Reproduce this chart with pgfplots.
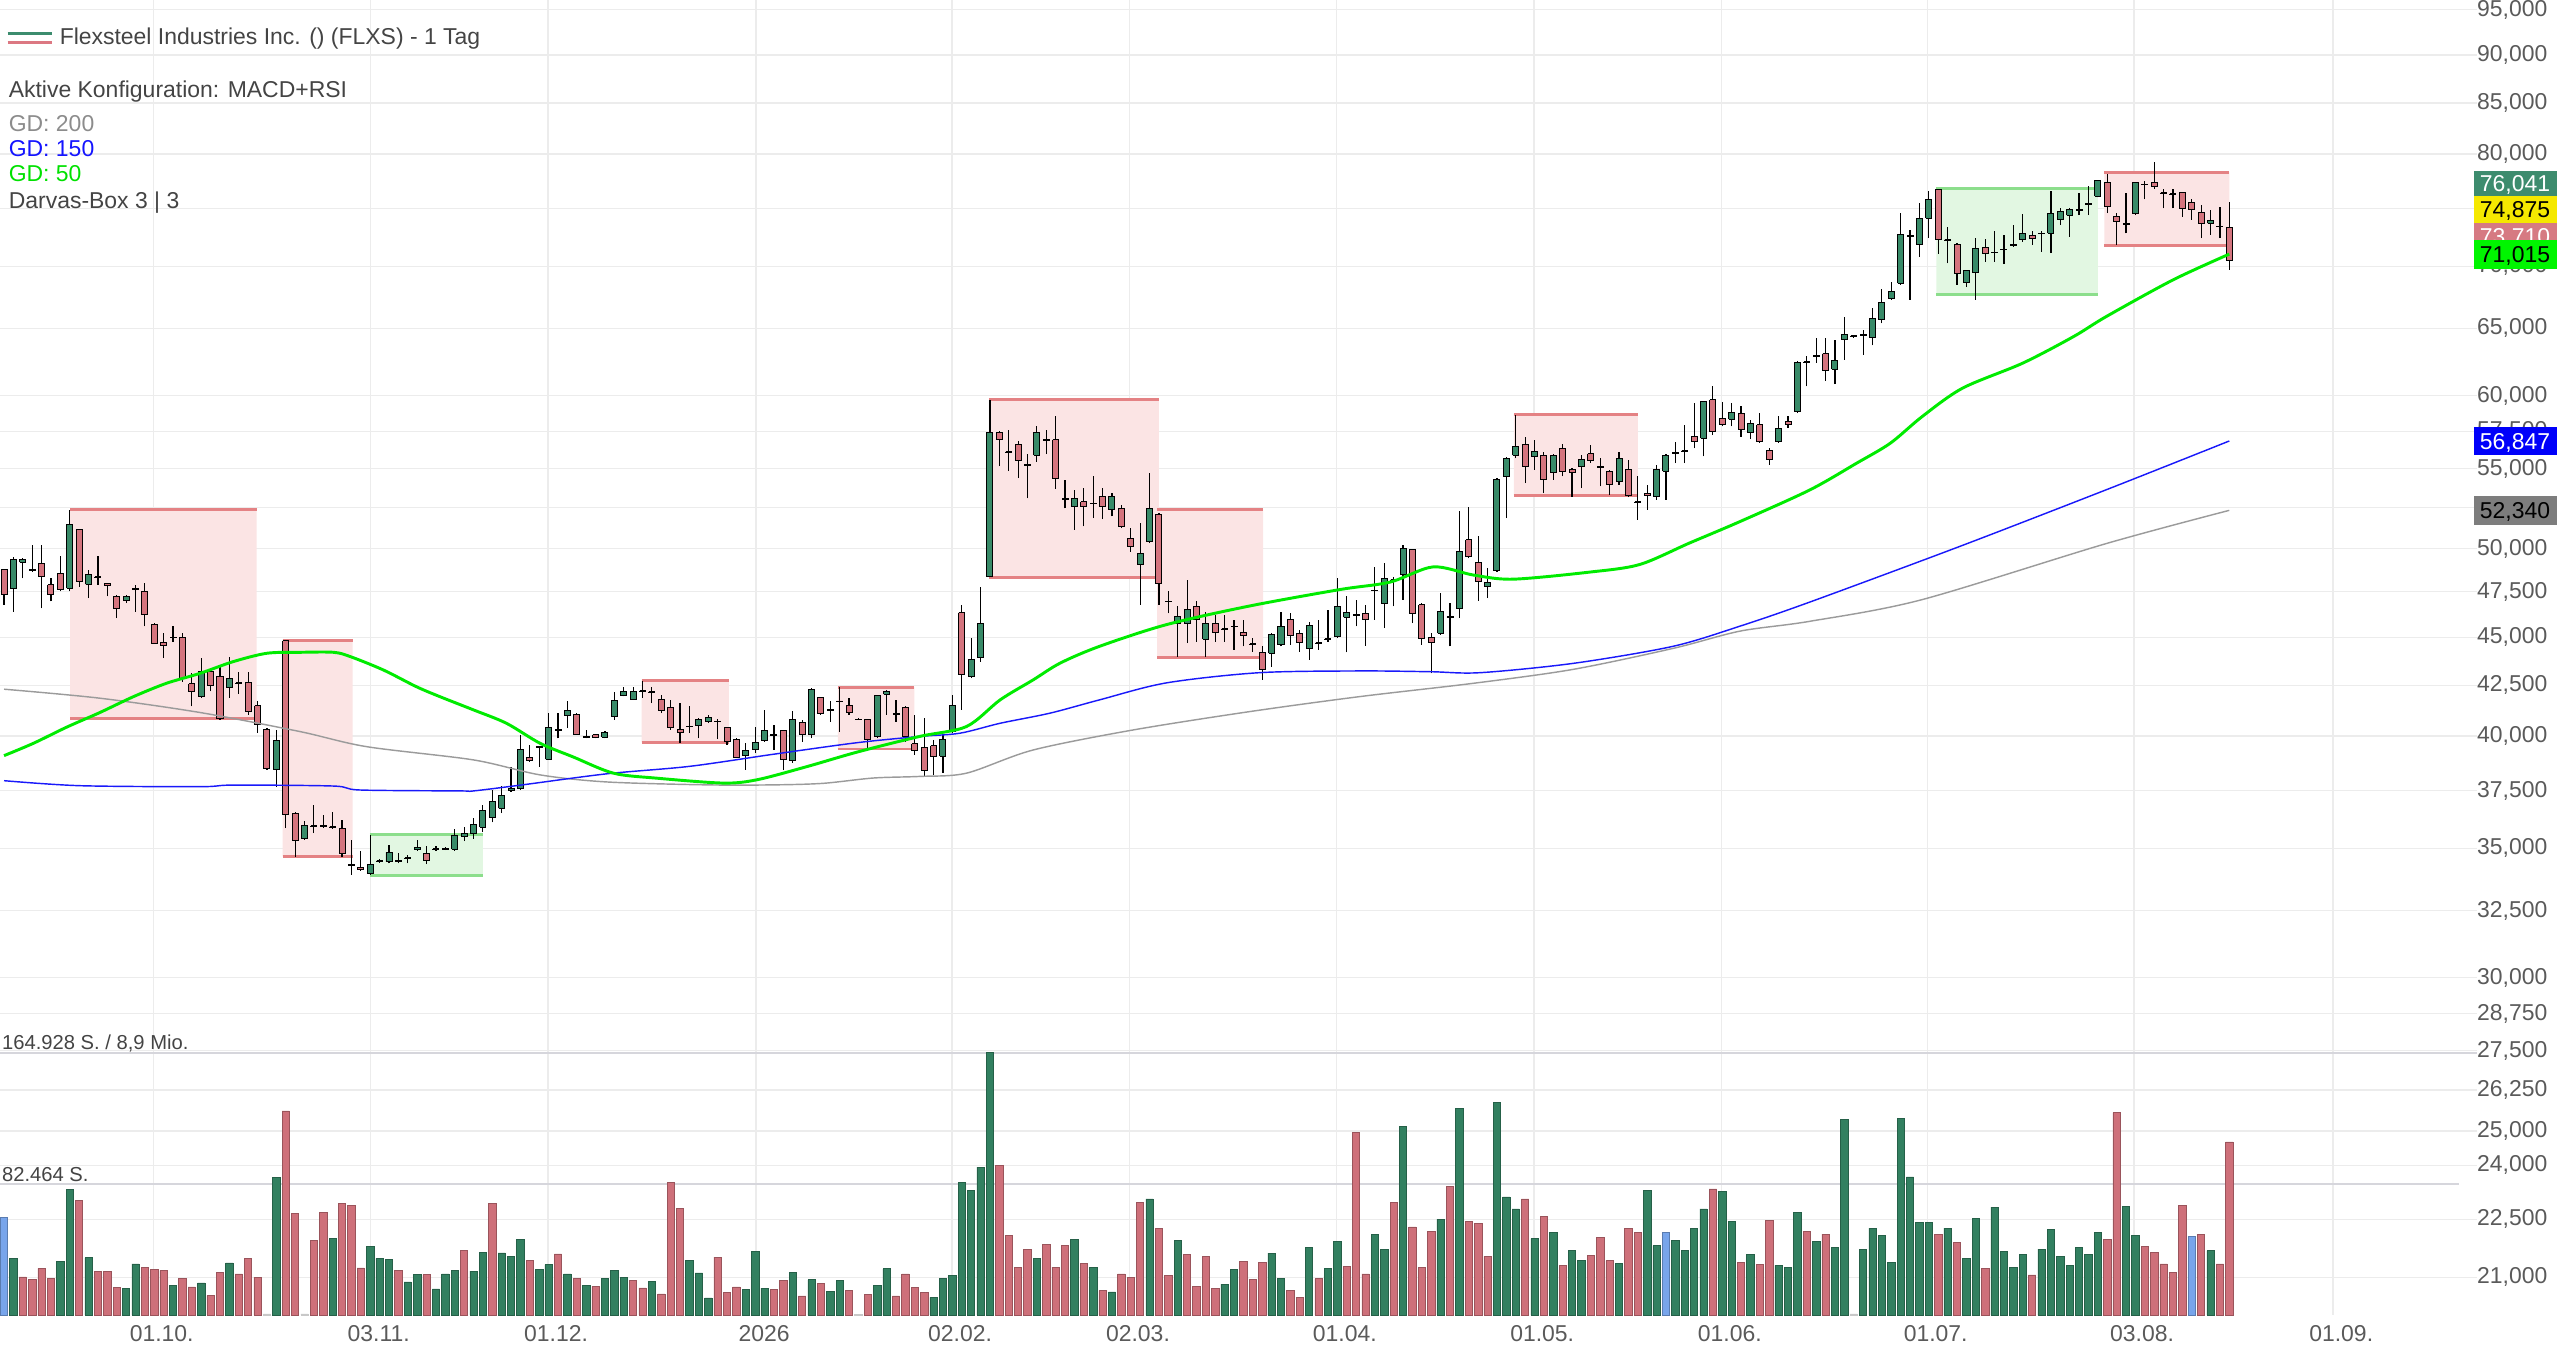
\documentclass[border=0pt]{standalone}
\usepackage{fontspec}
\setmainfont{Liberation Sans}
\usepackage{pgfplots}
\usepackage{pgfplotstable}
\pgfplotsset{compat=1.18}

\definecolor{cG}{RGB}{56,138,104}
\definecolor{cR}{RGB}{212,116,126}
\definecolor{vG}{RGB}{50,128,96}
\definecolor{vR}{RGB}{206,112,122}
\definecolor{vB}{RGB}{120,165,235}
\definecolor{vK}{RGB}{200,200,200}
\definecolor{boxR}{RGB}{251,228,228}
\definecolor{boxRl}{RGB}{228,130,132}
\definecolor{boxG}{RGB}{226,247,226}
\definecolor{boxGl}{RGB}{140,222,140}
\definecolor{ma50}{RGB}{0,235,0}
\definecolor{ma150}{RGB}{25,25,250}
\definecolor{ma200}{RGB}{155,155,155}
\definecolor{gridc}{RGB}{236,236,236}
\definecolor{sepc}{RGB}{214,214,220}
\definecolor{txt}{RGB}{68,68,68}
\definecolor{ticktxt}{RGB}{90,90,90}
\definecolor{legG}{RGB}{60,140,110}
\definecolor{legR}{RGB}{220,120,130}
\definecolor{bA}{RGB}{61,140,110}
\definecolor{bB}{RGB}{245,232,0}
\definecolor{bC}{RGB}{214,122,130}
\definecolor{bD}{RGB}{0,245,0}
\definecolor{bE}{RGB}{0,0,250}
\definecolor{bF}{RGB}{125,125,125}

\pgfplotstableread{
i o h l c
0 48.76 48.80 46.77 47.33
1 47.70 49.50 46.40 49.34
2 49.20 49.44 48.27 49.34
3 48.80 50.23 48.66 48.72
4 49.15 50.23 46.58 48.37
5 47.89 48.27 46.96 47.37
6 48.57 49.54 47.52 47.61
7 47.70 52.37 47.52 51.45
8 51.14 51.18 47.80 48.08
9 47.93 48.76 47.14 48.47
10 48.35 49.54 47.89 48.30
11 47.99 48.02 47.24 47.84
12 47.24 47.33 46.03 46.58
13 47.00 47.33 46.86 47.24
14 47.67 47.89 46.40 47.63
15 47.52 47.99 45.58 46.21
16 45.70 45.76 44.65 44.68
17 44.72 45.22 43.89 44.54
18 45.00 45.58 44.77 44.97
19 44.99 45.22 42.69 42.86
20 42.57 43.11 41.44 42.19
21 41.94 43.89 41.86 43.19
22 43.19 43.28 42.19 42.47
23 42.97 43.54 40.78 40.86
24 42.40 43.98 41.86 42.86
25 42.62 43.19 42.08 42.58
26 42.64 43.19 41.03 41.19
27 41.47 41.69 40.17 40.54
28 40.33 40.38 38.43 38.51
29 38.46 40.30 37.67 39.80
30 44.81 44.81 35.85 36.43
31 36.47 36.57 34.66 35.33
32 35.43 36.14 35.36 35.97
33 35.95 36.85 35.64 35.93
34 35.95 36.43 35.85 35.93
35 35.92 36.53 35.82 35.90
36 35.82 36.21 34.66 34.77
37 34.33 35.36 33.91 34.31
38 34.22 34.87 34.08 34.11
39 33.95 35.57 33.91 34.34
40 34.49 34.55 34.41 34.47
41 34.45 35.15 34.38 34.83
42 34.49 34.80 34.38 34.47
43 34.60 34.73 34.38 34.58
44 34.94 35.36 34.91 35.05
45 34.80 35.08 34.35 34.49
46 34.98 35.08 34.91 34.96
47 34.98 35.05 34.93 34.96
48 34.97 35.82 34.91 35.53
49 35.50 35.90 35.30 35.62
50 35.62 36.30 35.40 36.00
51 35.90 36.86 35.70 36.60
52 36.30 37.50 36.10 37.00
53 36.70 37.70 36.50 37.29
54 37.50 38.58 37.45 37.60
55 37.60 40.06 37.52 39.38
56 39.00 39.60 38.80 38.86
57 39.50 39.55 38.58 39.45
58 38.92 41.11 38.89 40.43
59 40.32 41.11 39.90 40.28
60 41.00 41.69 40.38 41.22
61 41.06 41.11 40.06 40.09
62 40.00 40.30 39.90 39.96
63 40.06 40.10 39.90 39.95
64 39.95 40.25 39.90 40.17
65 40.95 42.18 40.78 41.72
66 41.97 42.43 41.94 42.20
67 41.80 42.43 41.77 42.20
68 42.22 42.70 41.86 42.18
69 42.18 42.43 41.61 42.15
70 41.80 42.02 41.11 41.22
71 41.39 41.77 40.30 40.41
72 40.33 41.61 39.70 40.19
73 40.48 41.47 40.14 40.44
74 40.49 40.86 39.90 40.81
75 40.70 41.03 40.62 40.90
76 40.72 40.81 39.86 40.68
77 40.43 40.46 39.59 39.77
78 39.86 39.90 38.97 39.00
79 39.08 39.67 38.43 39.31
80 39.38 40.46 39.20 39.70
81 39.79 41.27 39.75 40.25
82 40.08 40.54 39.35 40.04
83 40.25 40.30 38.43 38.89
84 38.86 41.22 38.77 40.81
85 40.65 40.78 39.75 40.06
86 40.06 42.35 39.90 42.31
87 41.89 41.90 41.03 41.08
88 41.29 41.69 40.70 41.25
89 41.71 42.43 40.22 41.67
90 41.47 41.86 41.03 41.14
91 40.82 40.86 40.78 40.80
92 40.81 40.84 39.35 39.86
93 39.98 42.02 39.90 41.97
94 42.05 42.27 41.03 42.20
95 41.08 41.77 40.70 41.04
96 41.39 41.44 39.75 39.98
97 39.64 41.03 39.12 39.32
98 39.48 40.86 38.12 38.40
99 39.54 39.82 38.20 39.07
100 39.07 40.04 38.30 39.85
101 40.22 42.02 40.14 41.48
102 46.34 46.77 41.27 43.06
103 42.94 44.95 42.86 43.80
104 43.92 47.80 43.71 45.76
105 48.37 59.70 48.33 57.40
106 57.40 57.50 55.16 56.97
107 56.12 57.61 54.84 56.08
108 56.60 56.82 54.39 55.52
109 55.27 56.00 53.10 55.23
110 55.90 57.84 55.47 57.40
111 56.94 57.61 55.97 56.90
112 56.92 58.53 53.69 54.39
113 53.06 54.28 52.47 53.02
114 52.56 53.64 51.14 53.09
115 52.87 53.74 51.35 52.56
116 52.79 54.50 51.85 52.75
117 53.21 53.74 51.80 52.56
118 52.37 53.43 51.96 53.21
119 52.47 52.68 51.24 51.35
120 50.63 51.24 49.83 50.13
121 49.05 51.55 46.77 49.73
122 50.43 54.70 50.33 52.47
123 52.11 52.20 46.77 47.95
124 46.98 47.52 46.30 46.94
125 45.76 46.68 43.98 46.12
126 45.76 48.18 44.68 46.49
127 46.68 46.96 44.77 45.94
128 44.90 46.40 43.98 45.76
129 45.76 46.21 44.77 45.26
130 45.46 46.21 44.77 45.42
131 45.60 45.94 44.33 45.56
132 45.26 45.94 44.51 45.08
133 44.66 44.95 44.24 44.62
134 44.20 44.51 42.77 43.28
135 44.16 45.22 43.45 45.13
136 44.60 46.40 44.51 45.58
137 45.98 46.30 44.60 45.08
138 45.22 45.40 44.24 44.72
139 44.42 45.85 43.80 45.62
140 44.70 45.94 44.33 44.66
141 44.92 46.49 44.77 44.88
142 45.04 48.28 44.95 46.68
143 46.08 47.24 44.20 46.35
144 46.23 47.05 45.58 46.19
145 46.30 46.77 44.55 45.94
146 47.59 48.94 45.94 47.55
147 46.86 49.14 45.49 48.28
148 48.20 48.37 46.68 48.16
149 48.47 50.23 47.05 50.03
150 49.93 49.97 45.76 46.30
151 46.77 46.86 44.60 44.95
152 44.98 45.22 43.11 44.72
153 45.22 47.43 45.13 46.40
154 46.10 46.86 44.51 46.06
155 46.58 52.27 46.03 49.83
156 50.53 52.56 49.43 49.53
157 49.17 50.77 47.00 48.08
158 47.80 48.84 47.15 48.03
159 48.71 54.39 48.65 54.28
160 54.50 55.80 51.85 55.70
161 55.90 58.65 55.70 56.50
162 56.63 57.14 54.07 55.16
163 55.84 56.92 54.94 56.12
164 55.90 56.12 53.43 54.28
165 54.77 56.00 54.28 55.90
166 56.35 56.67 54.50 54.84
167 54.94 55.05 53.20 54.73
168 55.16 55.90 53.74 55.58
169 56.00 56.55 55.40 55.54
170 55.14 55.70 53.85 55.10
171 54.84 54.94 53.32 53.96
172 54.17 56.12 53.96 55.70
173 54.94 55.58 53.17 53.26
174 52.89 54.54 51.75 52.85
175 53.39 53.96 52.37 53.26
176 53.20 55.27 53.00 54.94
177 54.84 56.00 53.00 55.90
178 56.06 56.81 55.36 56.02
179 56.20 57.96 55.36 56.16
180 57.15 59.47 56.35 56.81
181 57.04 59.58 55.82 59.58
182 59.70 60.66 57.26 57.49
183 58.37 59.58 57.84 58.00
184 58.35 59.47 57.84 58.80
185 58.77 59.23 57.15 57.66
186 57.42 58.30 56.97 58.07
187 57.96 58.77 56.74 56.81
188 56.23 56.35 55.27 55.58
189 56.81 58.53 56.74 57.73
190 58.18 58.53 57.73 57.96
191 58.87 62.53 58.77 62.41
192 62.48 62.90 60.66 62.44
193 62.92 64.27 62.41 62.88
194 63.08 64.27 61.07 61.81
195 61.93 64.14 60.83 62.53
196 64.12 65.90 62.61 64.50
197 64.43 64.50 64.27 64.41
198 64.52 64.90 63.00 64.48
199 64.27 66.60 63.70 65.80
200 65.67 68.16 65.40 67.00
201 67.40 68.67 67.25 67.95
202 68.60 74.57 68.47 72.66
203 72.60 73.10 67.25 72.56
204 71.86 75.46 70.81 74.12
205 74.12 76.60 72.38 75.81
206 76.70 76.70 71.05 72.30
207 72.25 73.38 70.24 72.21
208 71.80 71.95 68.47 69.37
209 68.65 69.70 68.28 69.65
210 69.48 72.38 67.25 71.50
211 71.60 72.30 70.38 71.03
212 71.16 73.04 70.38 71.12
213 71.45 72.66 70.18 71.41
214 71.82 73.50 71.65 71.78
215 72.23 74.51 72.08 72.75
216 72.60 72.96 71.80 72.38
217 72.82 72.96 71.23 72.78
218 72.80 76.60 71.10 74.50
219 73.97 75.00 73.50 74.70
220 74.40 75.00 72.52 74.85
221 74.87 76.36 74.40 74.83
222 75.42 77.00 74.40 75.38
223 76.10 77.58 75.97 77.50
224 77.35 78.10 74.57 75.18
225 74.30 74.57 71.80 73.80
226 73.62 76.36 72.80 73.58
227 74.50 77.40 74.40 77.35
228 77.19 77.47 75.81 77.15
229 77.35 79.27 76.76 77.00
230 76.42 76.76 75.00 76.38
231 76.32 76.70 75.00 76.28
232 76.42 76.50 74.25 75.00
233 75.54 75.80 73.97 74.90
234 74.65 75.30 72.38 73.68
235 73.68 74.85 72.66 73.90
236 73.44 75.10 72.38 73.40
237 73.30 75.60 69.70 70.47
}\candles

\pgfplotstableread{
i v t
0 61.5 3
1 35.3 1
2 23.9 2
3 22.2 2
4 29.2 2
5 22.7 2
6 33.4 1
7 79.1 1
8 72.0 2
9 35.9 1
10 27.1 2
11 27.5 2
12 17.2 2
13 16.6 1
14 32.1 1
15 30.0 2
16 28.5 2
17 27.9 2
18 18.7 1
19 22.7 2
20 17.6 2
21 20.1 1
22 12.2 2
23 26.9 2
24 32.7 1
25 25.8 2
26 35.3 2
27 23.7 2
28 0.6 0
29 86.2 1
30 128.2 2
31 63.8 2
32 0.6 0
33 47.0 2
34 64.6 2
35 48.1 1
36 70.1 2
37 69.0 2
38 29.6 2
39 43.2 1
40 35.5 1
41 34.8 1
42 27.9 2
43 20.8 1
44 25.4 1
45 25.4 2
46 16.4 1
47 25.8 1
48 28.1 1
49 40.7 2
50 27.5 1
51 39.4 1
52 70.1 2
53 39.0 1
54 36.9 1
55 47.4 1
56 34.4 2
57 28.5 1
58 31.7 1
59 38.4 2
60 25.8 1
61 22.7 2
62 18.7 1
63 18.0 2
64 22.9 1
65 28.1 1
66 23.7 1
67 21.6 2
68 17.0 2
69 21.2 1
70 13.2 2
71 83.1 2
72 66.9 2
73 34.4 1
74 26.4 1
75 10.7 1
76 36.3 2
77 14.3 2
78 17.6 2
79 15.9 1
80 40.1 1
81 16.8 1
82 16.2 2
83 21.6 2
84 26.7 1
85 12.0 2
86 22.1 1
87 20.0 2
88 14.7 1
89 21.6 1
90 15.3 2
91 0.3 0
92 13.0 2
93 18.3 1
94 29.0 1
95 12.0 2
96 25.8 2
97 17.4 2
98 14.1 2
99 11.1 1
100 23.1 1
101 24.6 1
102 83.4 1
103 78.4 1
104 92.9 1
105 164.9 1
106 94.1 2
107 49.8 2
108 30.0 2
109 41.0 2
110 35.7 1
111 44.5 2
112 30.0 2
113 43.7 2
114 47.7 1
115 32.6 2
116 29.8 1
117 15.3 2
118 14.5 1
119 25.8 2
120 23.7 2
121 70.8 2
122 72.9 1
123 54.6 2
124 24.6 2
125 46.6 1
126 37.8 2
127 17.9 2
128 36.8 2
129 16.8 2
130 19.3 1
131 28.8 1
132 33.6 2
133 22.1 2
134 33.0 2
135 38.9 1
136 23.1 1
137 15.3 2
138 11.1 2
139 42.7 1
140 22.7 2
141 29.4 1
142 46.2 1
143 30.5 2
144 114.5 2
145 25.8 2
146 50.8 1
147 41.0 1
148 70.8 2
149 118.3 1
150 55.3 2
151 30.0 2
152 52.5 2
153 60.3 1
154 80.9 2
155 129.6 1
156 58.8 2
157 57.4 2
158 36.8 2
159 133.4 1
160 74.2 1
161 66.6 1
162 72.9 2
163 47.9 1
164 62.0 2
165 52.1 1
166 30.9 2
167 40.5 1
168 34.2 1
169 37.2 2
170 48.7 2
171 34.2 2
172 32.6 1
173 54.2 2
174 52.1 2
175 78.2 1
176 43.5 1
177 52.1 3
178 46.9 1
179 40.5 1
180 54.6 1
181 66.6 1
182 79.2 2
183 77.7 1
184 58.8 1
185 33.2 2
186 37.8 1
187 31.9 2
188 59.2 2
189 31.1 1
190 30.0 1
191 64.5 1
192 52.5 2
193 46.2 1
194 50.8 2
195 42.7 1
196 122.9 1
197 0.6 0
198 41.0 1
199 54.6 1
200 50.0 1
201 33.0 1
202 123.3 1
203 86.8 1
204 58.4 1
205 58.2 1
206 50.4 2
207 54.6 1
208 45.8 2
209 35.3 1
210 60.5 1
211 29.4 2
212 67.7 1
213 39.9 1
214 30.0 1
215 37.8 1
216 25.2 2
217 41.4 1
218 54.0 1
219 36.8 1
220 30.9 1
221 42.7 1
222 37.8 1
223 52.1 1
224 47.7 2
225 127.1 2
226 68.3 1
227 49.8 1
228 43.1 2
229 39.3 2
230 32.1 2
231 26.7 2
232 68.7 2
233 49.4 3
234 50.8 2
235 40.5 1
236 32.1 2
237 108.8 2
}\vols

\pgfplotstableread{
i p
0 39.09
3.12 39.66
6.67 40.43
10.2 41.14
13.8 41.93
17.3 42.60
20.9 43.11
24.4 43.71
28.0 44.15
31.5 44.20
35.1 44.20
36.9 43.97
40.4 43.28
43.9 42.43
46.4 41.93
50.0 41.27
53.5 40.62
57.1 39.66
60.6 39.03
64.9 38.28
69.5 38.05
76.6 37.83
80.2 37.98
85.5 38.58
90.9 39.26
97.5 39.99
102.5 40.46
106.1 41.77
109.6 42.77
112.5 43.64
116.7 44.52
123.8 45.68
132.7 46.71
142.3 47.63
147.6 48.05
152.2 48.93
156.5 48.46
160.7 48.22
168.9 48.63
174.2 49.07
179.5 50.34
184.9 51.65
192.3 53.62
197.3 55.36
200.9 56.70
204.3 58.53
208.6 60.54
215.0 62.37
220.4 64.37
223.9 65.93
231.0 68.87
237 71.015
}\maA

\pgfplotstableread{
i p
0 37.94
8.1 37.71
20.9 37.67
24.4 37.74
35.1 37.70
37.9 37.52
48.6 37.48
50.0 37.48
55.2 37.75
64.2 38.25
73.0 38.59
81.9 39.15
90.8 39.69
97.5 39.99
101.8 40.14
106.1 40.62
111.4 41.11
116.7 41.77
123.8 42.62
133.7 43.14
144.4 43.23
151.9 43.19
157.2 43.14
167.1 43.62
177.7 44.51
184.9 45.60
192.3 46.92
208.2 50.12
223.9 53.64
237 56.847
}\maB

\pgfplotstableread{
i p
0 42.30
10.2 41.85
20.9 41.14
31.5 40.22
38.6 39.51
50.0 38.89
57.1 38.20
64.2 37.88
74.9 37.75
81.9 37.75
87.2 37.82
92.6 38.06
97.5 38.13
102.5 38.28
109.6 39.35
120.3 40.30
132.7 41.19
144.4 41.93
156.5 42.60
167.1 43.31
177.8 44.41
184.9 45.33
192.3 45.86
204.2 47.05
223.9 50.31
237 52.34
}\maC

\newcommand{\darvas}[5]{%
  \addplot[fill=#5, draw=none, forget plot] coordinates {(#1,#3) (#2,#3) (#2,#4) (#1,#4) (#1,#3)};
  \addplot[#5l, line width=0.45mm, forget plot] coordinates {(#1,#4) (#2,#4)};
  \addplot[#5l, line width=0.45mm, forget plot] coordinates {(#1,#3) (#2,#3)};
}

\begin{document}
\begin{tikzpicture}
\useasboundingbox (0mm,0mm) rectangle (392mm,207.5mm);
\pgfplotstablegetrowsof{\candles}
\pgfmathtruncatemacro{\nrows}{\pgfplotsretval-1}
\begin{axis}[
  at={(0mm,6.15mm)}, anchor=south west,
  scale only axis, width=379.25mm, height=201.35mm,
  xmin=-0.43, xmax=263.35,
  ymode=log, ymin=20.08, ymax=96.11,
  axis line style={draw=none},
  major tick length=0pt, tick style={draw=none},
  xtick={15.92,39.04,57.93,80.08,100.95,119.9,141.93,162.95,182.93,204.86,226.84,248.05},
  xticklabels={01.10.,03.11.,01.12.,2026,02.02.,02.03.,01.04.,01.05.,01.06.,01.07.,03.08.,01.09.},
  xticklabel style={anchor=north, inner sep=0pt, yshift=-1.6mm, xshift=1.25mm, font=\fontsize{10}{12}\selectfont, text=ticktxt},
  ytick={21,22.5,24,25,26.25,27.5,28.75,30,32.5,35,37.5,40,42.5,45,47.5,50,52.5,55,57.5,60,65,70,75,80,85,90,95},
  yticklabels={{21,000},{22,500},{24,000},{25,000},{26,250},{27,500},{28,750},{30,000},{32,500},{35,000},{37,500},{40,000},{42,500},{45,000},{47,500},{50,000},{},{55,000},{57,500},{60,000},{65,000},{70,000},{},{80,000},{85,000},{90,000},{95,000}},
  yticklabel pos=right,
  yticklabel style={anchor=west, inner sep=0pt, font=\fontsize{10}{12}\selectfont, text=ticktxt},
  grid=major, major grid style={draw=gridc, line width=0.2mm},
  minor tick num=0,
]
\darvas{7.03}{26.9}{40.83}{52.37}{boxR}
\darvas{29.67}{37.13}{34.65}{44.81}{boxR}
\darvas{38.97}{51.0}{33.88}{35.57}{boxG}
\darvas{67.9}{77.2}{39.70}{42.73}{boxR}
\darvas{88.8}{96.95}{39.40}{42.40}{boxR}
\darvas{104.9}{123.0}{48.32}{59.70}{boxR}
\darvas{122.8}{134.1}{43.94}{52.40}{boxR}
\darvas{160.8}{174.0}{53.26}{58.69}{boxR}
\darvas{205.8}{223.0}{67.66}{76.75}{boxG}
\darvas{223.7}{237.0}{71.74}{78.29}{boxR}

\foreach \k in {0,...,\nrows}{%
  \pgfplotstablegetelem{\k}{i}\of\candles\let\ci\pgfplotsretval
  \pgfplotstablegetelem{\k}{o}\of\candles\let\co\pgfplotsretval
  \pgfplotstablegetelem{\k}{h}\of\candles\let\ch\pgfplotsretval
  \pgfplotstablegetelem{\k}{l}\of\candles\let\cl\pgfplotsretval
  \pgfplotstablegetelem{\k}{c}\of\candles\let\cc\pgfplotsretval
  \pgfmathsetmacro{\xa}{\ci-0.32}%
  \pgfmathsetmacro{\xb}{\ci+0.32}%
  \pgfmathparse{\cc>=\co ? 1 : 0}%
  \ifdim\pgfmathresult pt>0.5pt\def\fc{cG}\else\def\fc{cR}\fi
  \edef\temp{\noexpand\addplot[black, line width=0.18mm, forget plot] coordinates {(\ci,\cl) (\ci,\ch)};%
    \noexpand\addplot[fill=\fc, draw=black, line width=0.15mm, forget plot] coordinates {(\xa,\co) (\xb,\co) (\xb,\cc) (\xa,\cc) (\xa,\co)};}%
  \temp
}

\addplot[ma200, line width=0.22mm, smooth] table[x=i,y=p]{\maC};
\addplot[ma150, line width=0.22mm, smooth] table[x=i,y=p]{\maB};
\addplot[ma50, line width=0.45mm, smooth] table[x=i,y=p]{\maA};
\end{axis}

\begin{axis}[
  at={(0mm,6.15mm)}, anchor=south west,
  scale only axis, width=379.25mm, height=40.18mm,
  xmin=-0.43, xmax=263.35, ymin=0, ymax=164.928,
  hide axis, clip=false,
]
\addplot[draw=sepc, line width=0.3mm] coordinates {(-0.43,164.928) (263.35,164.928)};
\addplot[draw=sepc, line width=0.3mm] coordinates {(-0.43,82.464) (261.5,82.464)};
\addplot[ybar, bar width=0.78, bar shift=0pt, fill=vG, draw=vG!75!black, line width=0.1mm] table[x=i, y expr={\thisrow{t}==1 ? \thisrow{v} : nan}]{\vols};
\addplot[ybar, bar width=0.78, bar shift=0pt, fill=vR, draw=vR!75!black, line width=0.1mm] table[x=i, y expr={\thisrow{t}==2 ? \thisrow{v} : nan}]{\vols};
\addplot[ybar, bar width=0.78, bar shift=0pt, fill=vB, draw=vB!75!black, line width=0.1mm] table[x=i, y expr={\thisrow{t}==3 ? \thisrow{v} : nan}]{\vols};
\addplot[ybar, bar width=0.78, bar shift=0pt, fill=vK, draw=vK, line width=0.1mm] table[x=i, y expr={\thisrow{t}==0 ? \thisrow{v} : nan}]{\vols};
\end{axis}

% header texts
\draw[legG, line width=0.45mm] (1.18mm,202.4mm) -- (7.9mm,202.4mm);
\draw[legR, line width=0.45mm] (1.18mm,200.98mm) -- (7.9mm,200.98mm);
\begin{scope}[every node/.style={anchor=base west, inner sep=0pt, font=\fontsize{10}{12}\selectfont}]
\node[text=txt] at (9.08mm,200.61mm) {Flexsteel Industries Inc. () (FLXS) - 1 Tag};
\node[text=txt] at (1.28mm,192.56mm) {Aktive Konfiguration: MACD+RSI};
\node[text={rgb,255:red,140;green,140;blue,140}] at (1.28mm,187.36mm) {GD: 200};
\node[text={rgb,255:red,20;green,20;blue,255}] at (1.28mm,183.54mm) {GD: 150};
\node[text={rgb,255:red,0;green,225;blue,0}] at (1.28mm,179.74mm) {GD: 50};
\node[text=txt] at (1.28mm,175.61mm) {Darvas-Box 3 | 3};
\end{scope}
\node[anchor=base west, inner sep=0pt, font=\fontsize{8.8}{10}\selectfont, text=txt] at (0.25mm,46.75mm) {164.928 S. / 8,9 Mio.};
\node[anchor=base west, inner sep=0pt, font=\fontsize{8.8}{10}\selectfont, text=txt] at (0.25mm,26.57mm) {82.464 S.};

% value badges
\begin{scope}[every node/.style={anchor=base, inner sep=0pt, font=\fontsize{10}{12}\selectfont}]
\fill[bA] (378.75mm,177.53mm) rectangle (391.5mm,181.35mm);
\node[text=white] at (385.1mm,178.18mm) {76,041};
\fill[bB] (378.75mm,173.33mm) rectangle (391.5mm,177.53mm);
\node[text=black] at (385.1mm,174.16mm) {74,875};
\fill[bC] (378.75mm,168.95mm) rectangle (391.5mm,173.33mm);
\node[text=white] at (385.1mm,170.0mm) {73,710};
\fill[bD] (378.75mm,166.38mm) rectangle (391.5mm,170.75mm);
\node[text=black] at (385.1mm,167.3mm) {71,015};
\fill[bE] (378.75mm,137.78mm) rectangle (391.5mm,142.15mm);
\node[text=white] at (385.1mm,138.7mm) {56,847};
\fill[bF] (378.75mm,127.13mm) rectangle (391.5mm,131.5mm);
\node[text=black] at (385.1mm,128.05mm) {52,340};
\end{scope}
\end{tikzpicture}
\end{document}
